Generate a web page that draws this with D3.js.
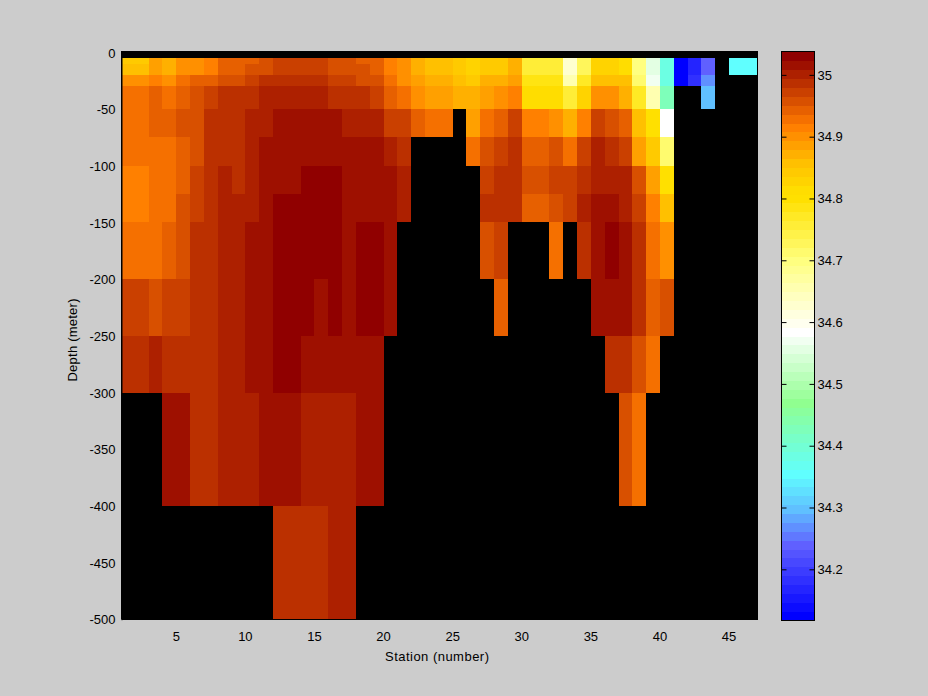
<!DOCTYPE html>
<html><head><meta charset="utf-8">
<script src="https://cdn.jsdelivr.net/npm/d3@7"></script>
<style>html,body{margin:0;padding:0;background:#ccc}svg{display:block}text{font-family:"Liberation Sans",sans-serif;font-size:13px;fill:#000}</style>
</head><body><svg id="c" width="928" height="696"></svg>
<script>
const _ = null;
const xTicks = [5,10,15,20,25,30,35,40,45];
const yTicks = [0,-50,-100,-150,-200,-250,-300,-350,-400,-450,-500];
const cTicks = [34.2,34.3,34.4,34.5,34.6,34.7,34.8,34.9,35];
const depthTop = [5,10,20,30,50,75,100,125,150,200,250,300,400];
const depthBottom = [10,20,30,50,75,100,125,150,200,250,300,400,500];
const r0 = [34.843,34.843,34.886,34.872,34.901,34.901,34.915,34.944,34.944,34.944,34.958,34.972,34.972,34.972,34.972,34.958,34.958,34.944,34.944,34.915,34.901,34.872,34.857,34.857,34.843,34.829,34.843,34.843,34.872,34.757,34.757,34.757,34.628,34.728,34.829,34.829,34.814,34.699,34.557,34.384,34.125,34.169,34.241,_,34.355,34.355];
const r1 = [34.857,34.857,34.886,34.872,34.901,34.901,34.915,34.944,34.944,34.958,34.958,34.972,34.972,34.972,34.972,34.958,34.958,34.958,34.944,34.915,34.901,34.872,34.857,34.857,34.843,34.829,34.843,34.843,34.872,34.757,34.757,34.757,34.628,34.728,34.829,34.829,34.814,34.699,34.557,34.384,34.125,34.169,34.241,_,34.355,34.355];
const r2 = [34.901,34.901,34.915,34.901,34.929,34.944,34.944,34.958,34.958,34.972,34.987,34.987,34.987,34.987,34.987,34.972,34.972,34.958,34.958,34.929,34.901,34.886,34.872,34.872,34.857,34.843,34.872,34.872,34.886,34.786,34.786,34.786,34.656,34.771,34.857,34.857,34.857,34.714,34.571,34.384,34.125,34.183,34.269,_,_,_];
const r3 = [34.929,34.929,34.944,34.929,34.944,34.958,34.972,34.987,34.987,34.987,35.001,35.001,35.001,35.001,35.001,34.987,34.987,34.987,34.972,34.944,34.929,34.901,34.886,34.886,34.872,34.872,34.886,34.901,34.915,34.814,34.814,34.814,34.757,34.829,34.901,34.901,34.872,34.771,34.656,34.427,_,_,34.298,_,_,_];
const r4 = [34.929,34.929,34.944,34.944,34.958,34.958,34.987,34.987,34.987,35.001,35.001,35.015,35.015,35.015,35.015,35.015,35.001,35.001,35.001,34.972,34.972,34.944,34.929,34.929,_,34.886,34.929,34.944,34.972,34.915,34.915,34.901,34.872,34.915,34.972,34.958,34.944,34.857,34.800,34.585,_,_,_,_,_,_];
const r5 = [34.929,34.929,34.929,34.929,34.944,34.958,34.987,34.987,34.987,35.001,35.015,35.015,35.015,35.015,35.015,35.015,35.015,35.015,35.015,35.001,34.987,_,_,_,_,34.929,34.958,34.972,34.987,34.944,34.944,34.958,34.929,34.972,35.001,34.987,34.972,34.886,34.843,34.714,_,_,_,_,_,_];
const r6 = [34.915,34.915,34.929,34.929,34.944,34.972,34.987,35.001,34.987,35.001,35.015,35.015,35.015,35.030,35.030,35.030,35.015,35.015,35.015,35.015,35.001,_,_,_,_,_,34.972,34.987,34.987,34.958,34.958,34.972,34.972,34.987,35.001,35.001,35.001,34.958,34.886,34.800,_,_,_,_,_,_];
const r7 = [34.915,34.915,34.929,34.929,34.958,34.972,34.987,35.001,35.001,35.001,35.015,35.030,35.030,35.030,35.030,35.030,35.015,35.015,35.015,35.015,35.001,_,_,_,_,_,34.987,34.987,34.987,34.944,34.944,34.958,34.972,35.001,35.015,35.015,35.001,34.972,34.915,34.857,_,_,_,_,_,_];
const r8 = [34.929,34.929,34.929,34.944,34.958,34.987,34.987,35.001,35.001,35.015,35.015,35.030,35.030,35.030,35.030,35.030,35.015,35.030,35.030,35.015,_,_,_,_,_,_,34.958,34.972,_,_,_,34.929,_,34.987,35.015,35.030,35.015,34.987,34.929,34.901,_,_,_,_,_,_];
const r9 = [34.972,34.972,34.958,34.972,34.972,34.987,34.987,35.001,35.001,35.015,35.015,35.030,35.030,35.030,35.015,35.030,35.015,35.030,35.030,35.015,_,_,_,_,_,_,_,34.944,_,_,_,_,_,_,35.015,35.015,35.015,34.987,34.944,34.958,_,_,_,_,_,_];
const r10 = [34.987,34.987,35.001,34.987,34.987,34.987,34.987,35.001,35.001,35.015,35.015,35.030,35.030,35.015,35.015,35.015,35.015,35.015,35.015,_,_,_,_,_,_,_,_,_,_,_,_,_,_,_,_,34.987,34.987,34.958,34.929,_,_,_,_,_,_,_];
const r11 = [_,_,_,35.015,35.015,34.987,34.987,35.001,35.001,35.001,35.015,35.015,35.015,35.001,35.001,35.001,35.001,35.015,35.015,_,_,_,_,_,_,_,_,_,_,_,_,_,_,_,_,_,34.958,34.929,_,_,_,_,_,_,_,_];
const r12 = [_,_,_,_,_,_,_,_,_,_,_,34.987,34.987,34.987,34.987,35.001,35.001,_,_,_,_,_,_,_,_,_,_,_,_,_,_,_,_,_,_,_,_,_,_,_,_,_,_,_,_,_];
const rows = [r0,r1,r2,r3,r4,r5,r6,r7,r8,r9,r10,r11,r12];
const paletteStops = [0,7,8,12,15,16,23,31,39,47,51,55,63];
const paletteColors = ["#900000","#f57000","#ff8000","#ffc000","#ffdd00","#ffe000","#ffff80","#ffffff","#90ff90","#60ffff","#60c0ff","#6060ff","#0000ff"];
const cMin = 34.118, cMax = 35.037, levels = 64;

const svg = d3.select("#c");
const x = d3.scaleLinear().domain([1,47]).range([121.5,757.2]);
const y = d3.scaleLinear().domain([0,-500]).range([52.95,619.75]);
const bandColor = d3.scaleLinear().domain(paletteStops).range(paletteColors).interpolate(d3.interpolateRgb);
const palette = d3.range(levels).map(k => d3.rgb(bandColor(levels-1-k)).formatHex());
const color = d3.scaleQuantize().domain([cMin,cMax]).range(palette);
const cY = d3.scaleLinear().domain([cMin,cMax]).range([620,52]);
const px = Math.floor;

const g = svg.append("g").attr("shape-rendering","crispEdges");
g.append("rect").attr("x",121).attr("y",51).attr("width",px(x(47))-121+1).attr("height",px(y(-500))-51).attr("fill","#000");
const cells = rows.flatMap((r,i)=>r.map((v,j)=>({v,i,j})).filter(d=>d.v!==null));
g.selectAll("rect.cell").data(cells).join("rect").attr("class","cell")
  .attr("x",d=>px(x(d.j+1))+(d.j===0?1:0)).attr("width",d=>px(x(d.j+2))-px(x(d.j+1))-(d.j===0?1:0))
  .attr("y",d=>px(y(-depthTop[d.i]))).attr("height",d=>px(y(-depthBottom[d.i]))-px(y(-depthTop[d.i])))
  .attr("fill",d=>color(d.v));
const axX = svg.append("g").attr("transform","translate(-1,619.5)").call(d3.axisBottom(x).tickValues(xTicks).tickSize(0).tickPadding(12).tickFormat(String));
axX.select(".domain").attr("d","M122.5,0H758.2").attr("stroke","#000");
const axY = svg.append("g").attr("transform","translate(121.5,0)").call(d3.axisLeft(y).tickValues(yTicks).tickSize(0).tickPadding(6).tickFormat(d=>String(d).replace("\u2212","-")));
axY.select(".domain").attr("stroke","#000");
svg.selectAll(".tick text").style("font-size","13px").style("font-family",'"Liberation Sans",sans-serif');
svg.append("line").attr("x1",757.5).attr("x2",757.5).attr("y1",51).attr("y2",620).attr("stroke","#000");
svg.append("text").attr("x",437).attr("y",661).attr("text-anchor","middle").attr("textLength",104).attr("lengthAdjust","spacing").text("Station (number)");
svg.append("text").attr("transform","translate(77,340) rotate(-90)").attr("text-anchor","middle").attr("textLength",83).attr("lengthAdjust","spacing").text("Depth (meter)");

const cb = svg.append("g").attr("shape-rendering","crispEdges");
cb.selectAll("rect").data(palette).join("rect")
  .attr("x",781).attr("width",34)
  .attr("y",(d,i)=>cY(cMin+(cMax-cMin)*(i+1)/levels)).attr("height",(620-52)/levels+0.5)
  .attr("fill",d=>d);
cb.append("rect").attr("x",781.5).attr("y",51.5).attr("width",33).attr("height",569).attr("fill","none").attr("stroke","#000");
const axC = svg.append("g").attr("transform","translate(814.5,0)").call(d3.axisRight(cY).tickValues(cTicks).tickSize(-5).tickPadding(3).tickFormat(d3.format("")));
axC.select(".domain").remove();
axC.selectAll(".tick text").attr("x",3);
const axC2 = svg.append("g").attr("transform","translate(781.5,0)").call(d3.axisRight(cY).tickValues(cTicks).tickSize(5).tickFormat(""));
axC2.select(".domain").remove();
</script></body></html>
